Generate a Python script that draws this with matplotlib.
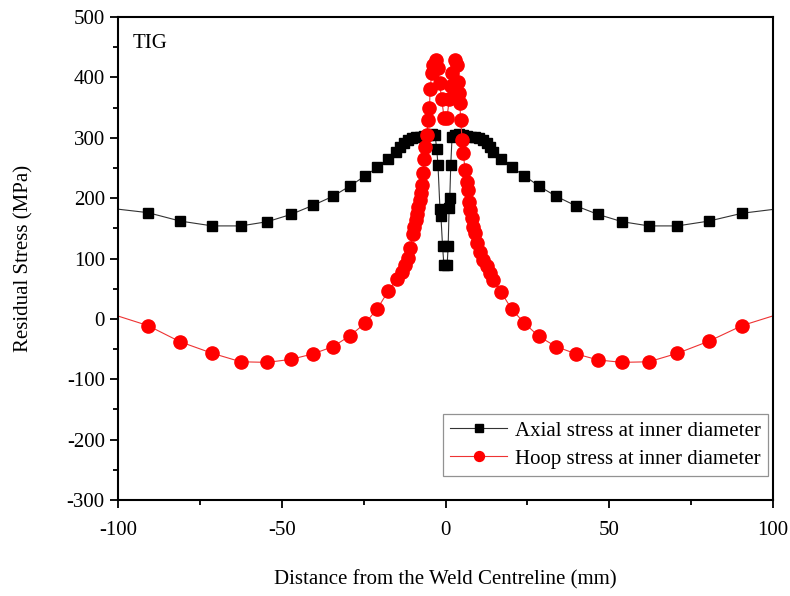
import numpy as np
import matplotlib
matplotlib.use("Agg")
import matplotlib.pyplot as plt
from matplotlib.ticker import MultipleLocator

# axial stress at inner diameter (MPa)
axial_x = [-110, -90.9, -81, -71.2, -62.5, -54.4, -47.2, -40.5, -34.4, -29.2, -24.5, -20.8,
           -17.5, -15, -13.8, -12.6, -11.4, -10.2, -9, -7.8, -6.6, -5.4, -4.2, -3.2, -2.7,
           -2.3, -1.7, -1.4, -0.9, -0.5,
           0.5, 0.8, 1.1, 1.3, 1.6, 2.0, 3.0, 4.2, 5.4, 6.6, 7.8, 9, 10.2, 11.4, 12.6, 13.6,
           14.4, 16.9, 20.2, 24.1, 28.5, 33.8, 39.9, 46.6, 53.9, 62.1, 70.8, 80.4, 90.6, 110]
axial_y = [188, 176, 162, 154, 154, 161, 173, 188, 203, 220, 237, 251,
           264, 276, 284, 291, 296, 299, 301, 302, 303, 304, 306, 305, 282,
           255, 182, 170, 120, 90,
           90, 120, 183, 200, 255, 302, 305, 306, 304, 303, 302, 301, 299, 296, 291, 284,
           276, 264, 251, 237, 220, 203, 187, 173, 161, 154, 154, 162, 175, 188]

# hoop stress at inner diameter (MPa)
hoop_x = [-110, -90.9, -81, -71.2, -62.5, -54.4, -47.2, -40.5, -34.4, -29.2, -24.5, -20.8,
          -17.5, -14.9, -13.4, -12.4, -11.4, -10.7, -10.0, -9.5, -9.0, -8.6, -8.3, -7.9,
          -7.6, -7.2, -6.9, -6.6, -6.3, -5.7, -5.3, -4.9, -4.7, -4.2, -3.7, -3.0, -2.4,
          -1.8, -1.2, -0.4,
          0.4, 1.2, 1.6, 1.9, 2.9, 3.5, 3.9, 4.2, 4.4, 4.6, 5.1, 5.4, 6.0, 6.5, 6.8, 7.2,
          7.5, 8.0, 8.5, 9.0, 9.7, 10.5, 11.5, 12.6, 13.6, 14.6, 16.9, 20.2, 24.1, 28.5,
          33.8, 39.9, 46.6, 53.9, 62.1, 70.8, 80.4, 90.6, 110]
hoop_y = [22, -11, -38, -57, -71, -72, -67, -58, -46, -28, -7, 17,
          46, 66, 78, 89, 101, 118, 140, 153, 164, 174, 185, 197,
          208, 222, 241, 264, 285, 305, 330, 350, 380, 408, 420, 429, 415,
          390, 365, 332,
          332, 365, 385, 407, 429, 420, 392, 374, 358, 330, 296, 274, 247, 227, 214, 194,
          180, 167, 153, 142, 125, 111, 98, 87, 76, 65, 45, 16, -7, -29,
          -46, -58, -68, -72, -71, -57, -37, -11, 22]

plt.rcParams['font.family'] = ['Liberation Serif', 'DejaVu Serif']
plt.rcParams['axes.unicode_minus'] = False

fig = plt.figure(figsize=(7.9, 5.96), dpi=100)
ax = fig.add_axes([0.1494, 0.161, 0.8291, 0.8105])

ax.plot(axial_x, axial_y, '-', color='#333333', lw=0.8, marker='s', ms=7.5,
        mfc='black', mec='black', label='Axial stress at inner diameter')
ax.plot(hoop_x, hoop_y, '-', color='#ee3333', lw=0.8, marker='o', ms=9.5,
        mfc='red', mec='red', label='Hoop stress at inner diameter')

ax.set_xlim(-100, 100)
ax.set_ylim(-300, 500)
ax.xaxis.set_major_locator(MultipleLocator(50))
ax.xaxis.set_minor_locator(MultipleLocator(25))
ax.yaxis.set_major_locator(MultipleLocator(100))
ax.yaxis.set_minor_locator(MultipleLocator(50))
ax.tick_params(which='both', direction='out', top=False, right=False, width=1.3,
               labelsize=15, colors='black')
ax.tick_params(which='major', length=6)
ax.tick_params(which='minor', length=3.5)
ax.tick_params(axis='x', which='major', pad=9)
for s in ax.spines.values():
    s.set_linewidth(1.5)

ax.set_xlabel('Distance from the Weld Centreline (mm)', fontsize=15, labelpad=22)
ax.set_ylabel('Residual Stress (MPa)', fontsize=15, labelpad=24)
ax.text(0.022, 0.965, 'TIG', transform=ax.transAxes, fontsize=15, va='top', ha='left')

leg = ax.legend(loc='lower right', bbox_to_anchor=(0.992, 0.05), fontsize=15,
                frameon=True, fancybox=False, edgecolor='#777777', borderpad=0.35,
                handlelength=2.75, handletextpad=0.35, labelspacing=0.4,
                borderaxespad=0, markerscale=0.75)
leg.get_frame().set_linewidth(0.9)

fig.savefig('out.png', dpi=100)
